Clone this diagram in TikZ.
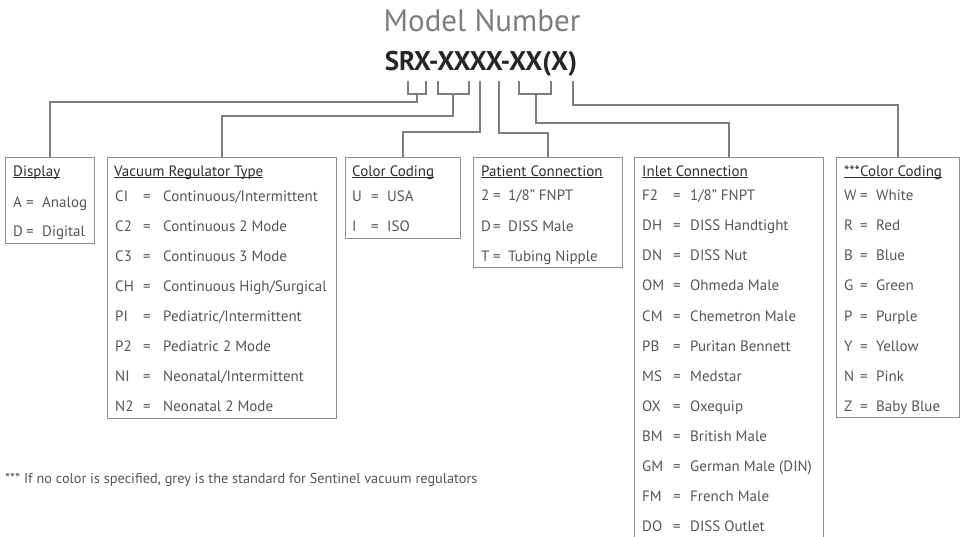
\documentclass[tikz,border=0pt]{standalone}
\usepackage{fontspec}
\setmainfont{PT Sans}
\usetikzlibrary{positioning}
\definecolor{wiregray}{RGB}{125,125,125}
\definecolor{boxgray}{RGB}{140,140,140}
\definecolor{textgray}{RGB}{85,85,85}
\definecolor{headgray}{RGB}{45,45,45}
\definecolor{titlegray}{RGB}{125,125,125}
\newcommand{\keyhead}[1]{\underline{\smash{#1}}}

\begin{document}
\begin{tikzpicture}[x=1pt, y=-1pt,
    wire/.style={draw=wiregray, line width=1.6pt},
    keybox/.style={draw=boxgray, line width=1pt, anchor=north west, inner sep=0pt},
    head/.style={anchor=base west, inner sep=0pt, text=headgray, font=\fontsize{15}{18}\selectfont},
    entry/.style={anchor=base west, inner sep=0pt, text=textgray, font=\fontsize{15}{18}\selectfont},
    eqsign/.style={anchor=base, inner sep=0pt, text=textgray, font=\fontsize{15}{18}\selectfont}]
  \useasboundingbox (0,0) rectangle (964,536);
  % title and model number
  \node[font=\fontsize{31}{36}\selectfont, text=titlegray] (title) at (482,21) {Model Number};
  \node[font=\fontsize{27}{32}\selectfont\bfseries, text=black!85] (model) at (481,64) {SRX-XXXX-XX(X)};

  % key boxes
  \node[keybox, minimum width=89,  minimum height=86]  (disp) at (5,157)   {};
  \node[keybox, minimum width=229, minimum height=261] (vac)  at (107,157) {};
  \node[keybox, minimum width=115, minimum height=81]  (col)  at (345,157) {};
  \node[keybox, minimum width=149, minimum height=110] (pat)  at (473,157) {};
  \node[keybox, minimum width=189, minimum height=390] (inl)  at (634,157) {};
  \node[keybox, minimum width=123, minimum height=260] (xcol) at (836,157) {};

  % brackets under the model number
  \coordinate (dl) at (408,81); \coordinate (dr) at (426,81); \coordinate (dm) at (417,94);
  \coordinate (vl) at (438,81); \coordinate (vr) at (469,81); \coordinate (vm) at (453,94);
  \coordinate (cm) at (480,81);
  \coordinate (pm) at (499,81);
  \coordinate (il) at (519,81); \coordinate (ir) at (551,81); \coordinate (im) at (536,94);
  \coordinate (xm) at (573,81);
  \draw[wire] (dl) |- (dm) -| (dr);
  \draw[wire] (vl) |- (vm) -| (vr);
  \draw[wire] (il) |- (im) -| (ir);

  % connectors down to the boxes
  \draw[wire] (dm) -- ++(0,8)  -| (disp.north);
  \draw[wire] (vm) -- ++(0,22) -| (vac.north);
  \draw[wire] (cm) -- ++(0,51) -| (col.north);
  \draw[wire] (pm) -- ++(0,52) -| (pat.north);
  \draw[wire] (im) -- ++(0,29) -| (inl.north);
  \draw[wire] (xm) -- ++(0,24) -| (xcol.north);

  % Display
  \node[head] (disp-h) at (13,176) {\keyhead{Display}};
  \foreach \c/\d [count=\i] in {A/Analog, D/Digital} {
    \node[entry]  (disp-c\i) at (13,178.5+29*\i) {\c};
    \node[eqsign] (disp-e\i) at (30,178.5+29*\i) {=};
    \node[entry]  (disp-d\i) at (42,178.5+29*\i) {\d};
  }
  % Vacuum Regulator Type
  \node[head] (vac-h) at (114,176) {\keyhead{Vacuum Regulator Type}};
  \foreach \c/\d [count=\i] in {{CI}/{Continuous/Intermittent}, {C2}/{Continuous 2 Mode},
      {C3}/{Continuous 3 Mode}, {CH}/{Continuous High/Surgical}, {PI}/{Pediatric/Intermittent},
      {P2}/{Pediatric 2 Mode}, {NI}/{Neonatal/Intermittent}, {N2}/{Neonatal 2 Mode}} {
    \node[entry]  (vac-c\i) at (115,171.5+30*\i) {\c};
    \node[eqsign] (vac-e\i) at (147,171.5+30*\i) {=};
    \node[entry]  (vac-d\i) at (163,171.5+30*\i) {\d};
  }
  % Color Coding
  \node[head] (col-h) at (352,176) {\keyhead{Color Coding}};
  \foreach \c/\d [count=\i] in {U/USA, I/ISO} {
    \node[entry]  (col-c\i) at (352,170.5+30.5*\i) {\c};
    \node[eqsign] (col-e\i) at (375,170.5+30.5*\i) {=};
    \node[entry]  (col-d\i) at (387,170.5+30.5*\i) {\d};
  }
  % Patient Connection
  \node[head] (pat-h) at (481,176) {\keyhead{Patient Connection}};
  \foreach \c/\d [count=\i] in {{2}/{1/8" FNPT}, {D}/{DISS Male}, {T}/{Tubing Nipple}} {
    \node[entry]  (pat-c\i) at (481,170.5+30.3*\i) {\c};
    \node[eqsign] (pat-e\i) at (497,170.5+30.3*\i) {=};
    \node[entry]  (pat-d\i) at (508,170.5+30.3*\i) {\d};
  }
  % Inlet Connection
  \node[head] (inl-h) at (642,176) {\keyhead{Inlet Connection}};
  \foreach \c/\d [count=\i] in {{F2}/{1/8" FNPT}, DH/DISS Handtight, DN/DISS Nut, OM/Ohmeda Male,
      CM/Chemetron Male, PB/Puritan Bennett, MS/Medstar, OX/Oxequip, BM/British Male,
      GM/German Male (DIN), FM/French Male, DO/DISS Outlet} {
    \node[entry]  (inl-c\i) at (642,170.5+30.1*\i) {\c};
    \node[eqsign] (inl-e\i) at (677,170.5+30.1*\i) {=};
    \node[entry]  (inl-d\i) at (690,170.5+30.1*\i) {\d};
  }
  % ***Color Coding
  \node[head] (xcol-h) at (844,176) {\keyhead{***Color Coding}};
  \foreach \c/\d [count=\i] in {W/White, R/Red, B/Blue, G/Green, P/Purple, Y/Yellow, N/Pink, Z/Baby Blue} {
    \node[entry]  (xcol-c\i) at (844,170.5+30.1*\i) {\c};
    \node[eqsign] (xcol-e\i) at (864,170.5+30.1*\i) {=};
    \node[entry]  (xcol-d\i) at (876,170.5+30.1*\i) {\d};
  }

  % footnote
  \node[anchor=west, inner sep=0pt, text=textgray, font=\fontsize{14.3}{17}\selectfont] (note) at (5,480)
    {*** If no color is specified, grey is the standard for Sentinel vacuum regulators};
\end{tikzpicture}
\end{document}
